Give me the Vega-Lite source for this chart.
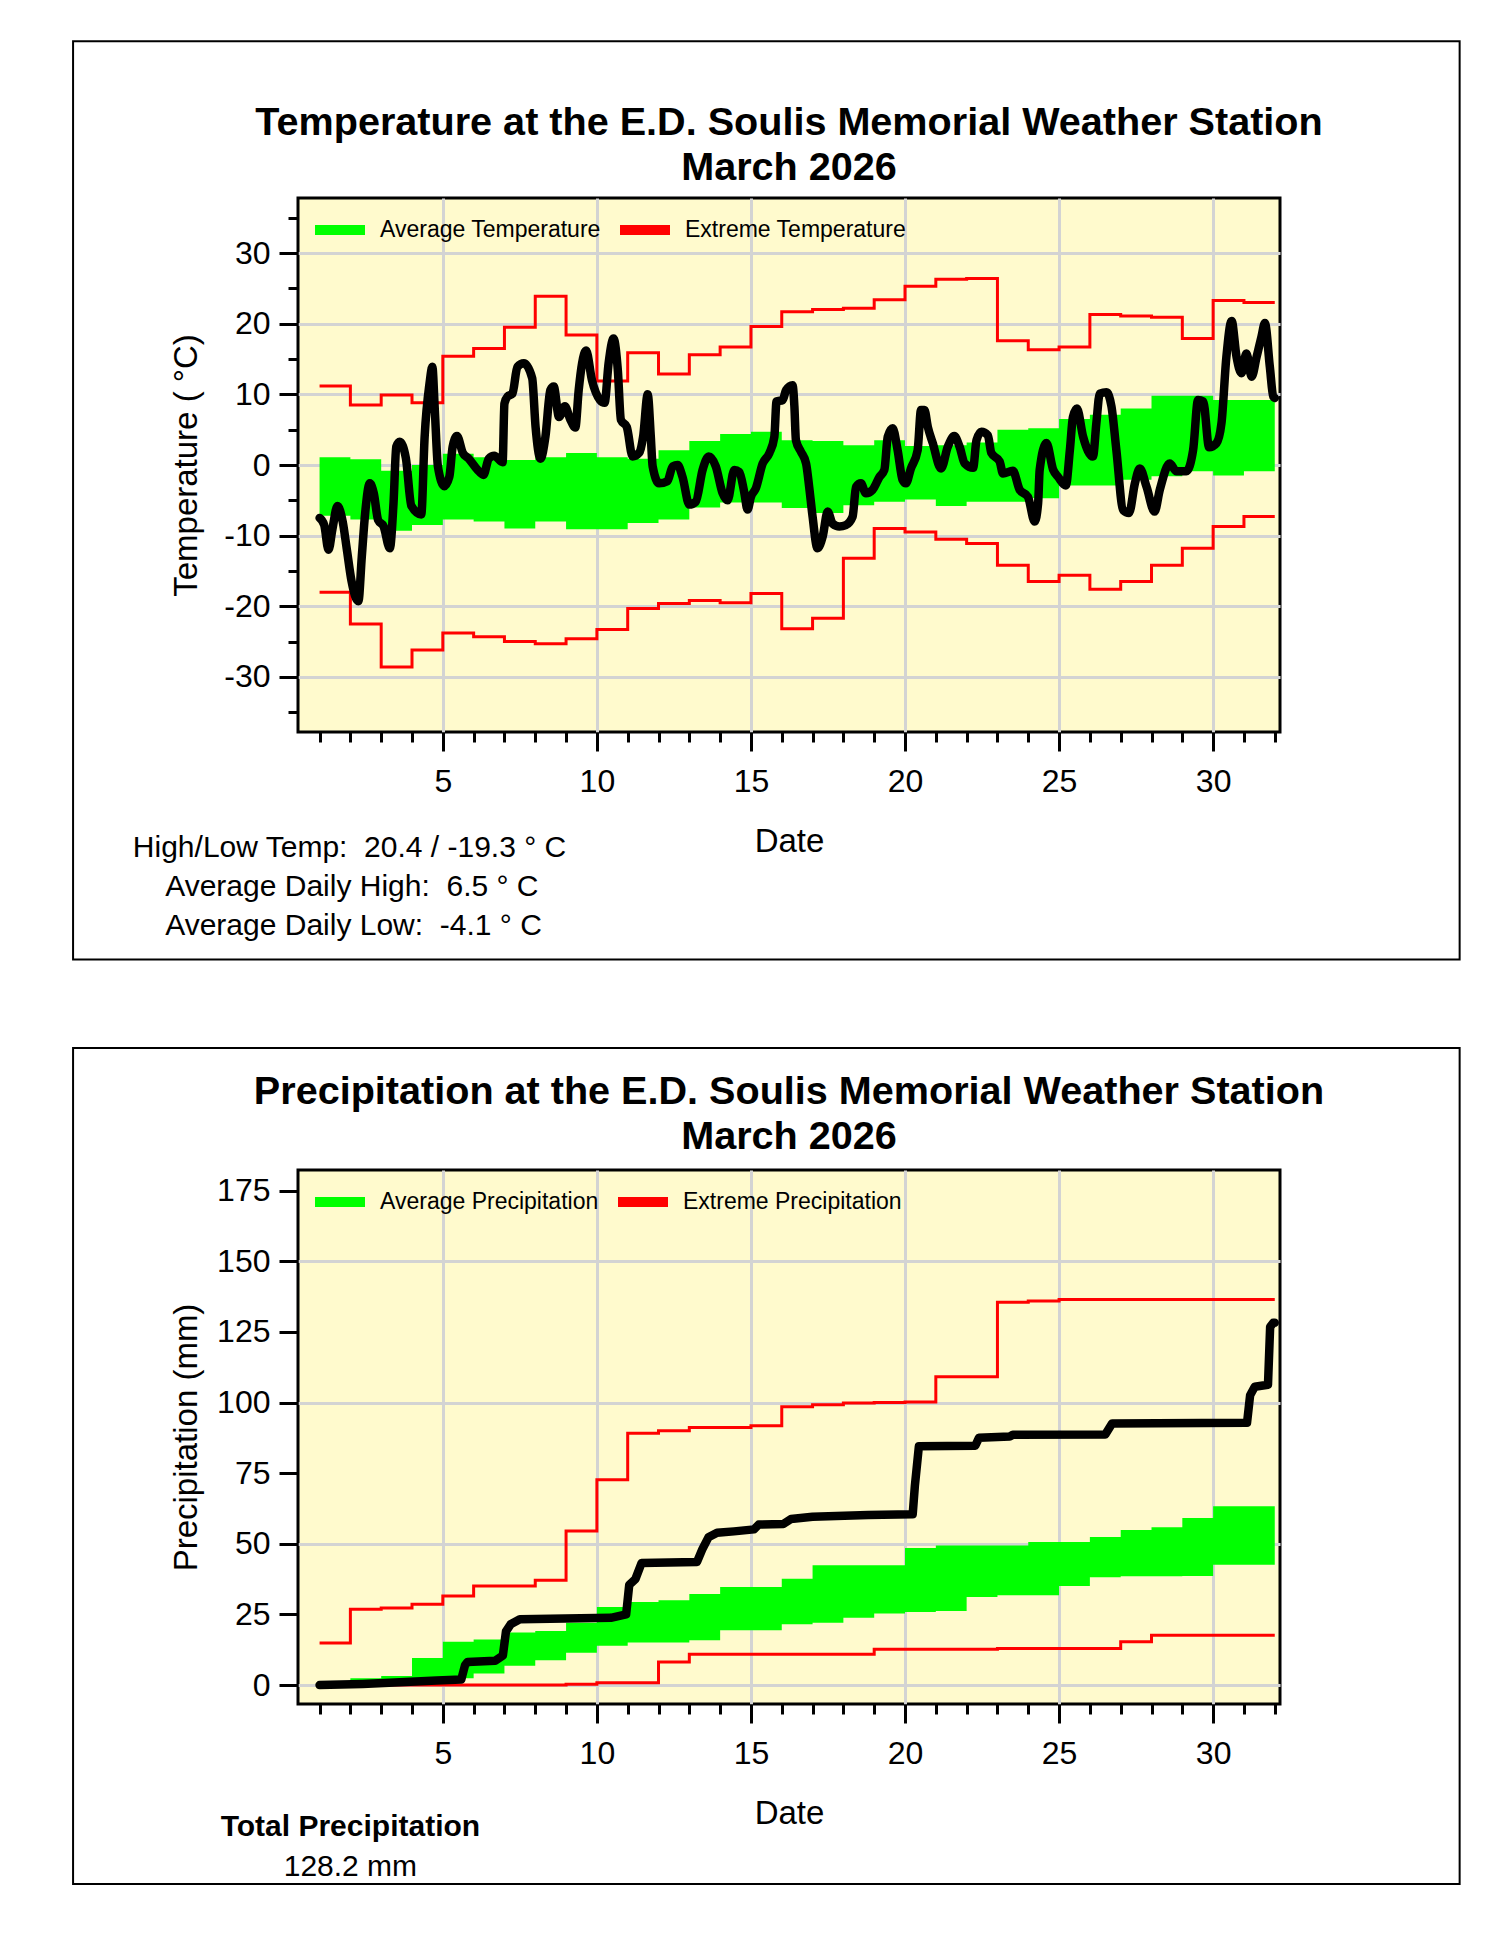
{
  "$schema": "https://vega.github.io/schema/vega-lite/v6.json",
  "background": "white",
  "padding": {"left": 70, "top": 38, "right": 0, "bottom": 0},
  "config": {
    "font": "Liberation Sans",
    "view": {"stroke": "black", "strokeWidth": 3, "fill": "#FFFACD"},
    "axis": {
      "domain": false,
      "tickColor": "black",
      "tickWidth": 3,
      "tickCount": 100,
      "labelFont": "Liberation Sans",
      "labelFontSize": 32,
      "labelColor": "black",
      "titleFont": "Liberation Sans",
      "titleFontSize": 33,
      "titleFontWeight": "normal",
      "titleColor": "black",
      "gridColor": "#d3d3d3",
      "gridWidth": 3
    },
    "title": {"font": "Liberation Sans", "fontSize": 39.6, "fontWeight": "bold", "color": "black", "anchor": "middle", "lineHeight": 45},
    "legend": {"labelFont": "Liberation Sans", "labelFontSize": 23, "labelColor": "black", "labelLimit": 0}
  },
  "datasets": {
    "temp_daily": [
      {"day": 1, "avg_hi": 1.1, "avg_lo": -7.2, "ext_hi": 11.2, "ext_lo": -18.0},
      {"day": 2, "avg_hi": 0.8, "avg_lo": -7.7, "ext_hi": 8.5, "ext_lo": -22.5},
      {"day": 3, "avg_hi": -0.8, "avg_lo": -9.3, "ext_hi": 9.9, "ext_lo": -28.6},
      {"day": 4, "avg_hi": 0.0, "avg_lo": -8.5, "ext_hi": 8.8, "ext_lo": -26.2},
      {"day": 5, "avg_hi": 1.6, "avg_lo": -7.7, "ext_hi": 15.4, "ext_lo": -23.8},
      {"day": 6, "avg_hi": 1.1, "avg_lo": -8.0, "ext_hi": 16.5, "ext_lo": -24.3},
      {"day": 7, "avg_hi": 0.7, "avg_lo": -9.0, "ext_hi": 19.5, "ext_lo": -25.0},
      {"day": 8, "avg_hi": 1.1, "avg_lo": -8.0, "ext_hi": 23.9, "ext_lo": -25.3},
      {"day": 9, "avg_hi": 1.7, "avg_lo": -9.1, "ext_hi": 18.4, "ext_lo": -24.6},
      {"day": 10, "avg_hi": 1.1, "avg_lo": -9.1, "ext_hi": 11.9, "ext_lo": -23.3},
      {"day": 11, "avg_hi": 0.9, "avg_lo": -8.2, "ext_hi": 15.9, "ext_lo": -20.3},
      {"day": 12, "avg_hi": 2.1, "avg_lo": -7.7, "ext_hi": 12.9, "ext_lo": -19.6},
      {"day": 13, "avg_hi": 3.4, "avg_lo": -6.0, "ext_hi": 15.6, "ext_lo": -19.2},
      {"day": 14, "avg_hi": 4.4, "avg_lo": -5.3, "ext_hi": 16.7, "ext_lo": -19.5},
      {"day": 15, "avg_hi": 4.7, "avg_lo": -5.3, "ext_hi": 19.6, "ext_lo": -18.2},
      {"day": 16, "avg_hi": 3.5, "avg_lo": -6.1, "ext_hi": 21.7, "ext_lo": -23.2},
      {"day": 17, "avg_hi": 3.4, "avg_lo": -6.8, "ext_hi": 22.0, "ext_lo": -21.7},
      {"day": 18, "avg_hi": 2.8, "avg_lo": -5.7, "ext_hi": 22.2, "ext_lo": -13.2},
      {"day": 19, "avg_hi": 3.5, "avg_lo": -5.2, "ext_hi": 23.4, "ext_lo": -9.0},
      {"day": 20, "avg_hi": 2.7, "avg_lo": -4.9, "ext_hi": 25.3, "ext_lo": -9.5},
      {"day": 21, "avg_hi": 2.8, "avg_lo": -5.8, "ext_hi": 26.3, "ext_lo": -10.5},
      {"day": 22, "avg_hi": 3.2, "avg_lo": -5.2, "ext_hi": 26.4, "ext_lo": -11.1},
      {"day": 23, "avg_hi": 5.0, "avg_lo": -5.2, "ext_hi": 17.6, "ext_lo": -14.2},
      {"day": 24, "avg_hi": 5.2, "avg_lo": -4.7, "ext_hi": 16.3, "ext_lo": -16.5},
      {"day": 25, "avg_hi": 6.5, "avg_lo": -2.9, "ext_hi": 16.7, "ext_lo": -15.6},
      {"day": 26, "avg_hi": 7.1, "avg_lo": -2.9, "ext_hi": 21.3, "ext_lo": -17.6},
      {"day": 27, "avg_hi": 8.0, "avg_lo": -2.1, "ext_hi": 21.1, "ext_lo": -16.5},
      {"day": 28, "avg_hi": 9.8, "avg_lo": -1.6, "ext_hi": 20.9, "ext_lo": -14.2},
      {"day": 29, "avg_hi": 9.8, "avg_lo": -0.9, "ext_hi": 17.9, "ext_lo": -11.8},
      {"day": 30, "avg_hi": 9.2, "avg_lo": -1.5, "ext_hi": 23.3, "ext_lo": -8.7},
      {"day": 31, "avg_hi": 9.2, "avg_lo": -0.9, "ext_hi": 23.0, "ext_lo": -7.3},
      {"day": 32, "avg_hi": 9.2, "avg_lo": -0.9, "ext_hi": 23.0, "ext_lo": -7.3}
    ],
    "temp_obs": [
      {"day": 1.0, "temp": -7.5}, {"day": 1.15, "temp": -8.5}, {"day": 1.29, "temp": -12.0}, {"day": 1.42, "temp": -9.0},
      {"day": 1.58, "temp": -5.8}, {"day": 1.75, "temp": -8.0}, {"day": 1.88, "temp": -11.8}, {"day": 2.04, "temp": -16.5},
      {"day": 2.26, "temp": -19.3}, {"day": 2.37, "temp": -13.0}, {"day": 2.48, "temp": -6.8}, {"day": 2.63, "temp": -2.6},
      {"day": 2.76, "temp": -4.0}, {"day": 2.9, "temp": -7.8}, {"day": 3.08, "temp": -8.7}, {"day": 3.28, "temp": -11.8},
      {"day": 3.4, "temp": -5.4}, {"day": 3.49, "temp": 2.6}, {"day": 3.6, "temp": 3.3}, {"day": 3.8, "temp": 1.0},
      {"day": 3.98, "temp": -5.8}, {"day": 4.3, "temp": -7.0}, {"day": 4.41, "temp": 4.0}, {"day": 4.57, "temp": 11.6},
      {"day": 4.66, "temp": 13.9}, {"day": 4.74, "temp": 7.8}, {"day": 4.84, "temp": -0.2}, {"day": 5.05, "temp": -3.0},
      {"day": 5.21, "temp": -1.7}, {"day": 5.32, "temp": 2.6}, {"day": 5.46, "temp": 4.1}, {"day": 5.65, "temp": 1.7},
      {"day": 5.84, "temp": 0.9}, {"day": 6.13, "temp": -0.7}, {"day": 6.32, "temp": -1.4}, {"day": 6.49, "temp": 0.9},
      {"day": 6.67, "temp": 1.3}, {"day": 6.94, "temp": 0.4}, {"day": 7.0, "temp": 8.7}, {"day": 7.1, "temp": 9.7},
      {"day": 7.26, "temp": 10.1}, {"day": 7.42, "temp": 13.9}, {"day": 7.63, "temp": 14.4}, {"day": 7.9, "temp": 12.3},
      {"day": 8.01, "temp": 5.4}, {"day": 8.17, "temp": 0.9}, {"day": 8.33, "temp": 4.0}, {"day": 8.49, "temp": 10.6},
      {"day": 8.6, "temp": 11.1}, {"day": 8.77, "temp": 6.8}, {"day": 8.96, "temp": 8.3}, {"day": 9.14, "temp": 6.4},
      {"day": 9.3, "temp": 5.3}, {"day": 9.41, "temp": 10.6}, {"day": 9.52, "temp": 14.4}, {"day": 9.65, "temp": 16.2},
      {"day": 9.84, "temp": 12.0}, {"day": 10.1, "temp": 9.2}, {"day": 10.25, "temp": 8.8}, {"day": 10.38, "temp": 14.4},
      {"day": 10.54, "temp": 17.9}, {"day": 10.68, "temp": 13.4}, {"day": 10.78, "temp": 6.4}, {"day": 10.97, "temp": 5.4},
      {"day": 11.16, "temp": 1.2}, {"day": 11.37, "temp": 1.7}, {"day": 11.5, "temp": 4.0}, {"day": 11.65, "temp": 10.0},
      {"day": 11.75, "temp": 4.0}, {"day": 11.81, "temp": -0.2}, {"day": 12.02, "temp": -2.6}, {"day": 12.29, "temp": -2.3},
      {"day": 12.46, "temp": -0.2}, {"day": 12.62, "temp": 0.0}, {"day": 12.78, "temp": -1.7}, {"day": 13.0, "temp": -5.6},
      {"day": 13.21, "temp": -5.2}, {"day": 13.43, "temp": -0.7}, {"day": 13.63, "temp": 1.2}, {"day": 13.86, "temp": -0.2},
      {"day": 14.08, "temp": -4.0}, {"day": 14.24, "temp": -5.0}, {"day": 14.46, "temp": -0.7}, {"day": 14.62, "temp": -1.0},
      {"day": 14.78, "temp": -3.8}, {"day": 14.89, "temp": -6.3}, {"day": 15.0, "temp": -4.5}, {"day": 15.16, "temp": -3.3},
      {"day": 15.38, "temp": 0.2}, {"day": 15.6, "temp": 1.7}, {"day": 15.76, "temp": 4.0}, {"day": 15.83, "temp": 9.0},
      {"day": 16.03, "temp": 9.2}, {"day": 16.14, "temp": 10.6}, {"day": 16.35, "temp": 11.3}, {"day": 16.41, "temp": 8.3},
      {"day": 16.46, "temp": 3.5}, {"day": 16.62, "temp": 1.9}, {"day": 16.79, "temp": 0.2}, {"day": 16.89, "temp": -3.1},
      {"day": 17.0, "temp": -7.3}, {"day": 17.16, "temp": -11.8}, {"day": 17.33, "temp": -10.1}, {"day": 17.49, "temp": -6.6},
      {"day": 17.65, "temp": -8.3}, {"day": 17.87, "temp": -8.7}, {"day": 18.08, "temp": -8.5}, {"day": 18.3, "temp": -7.3},
      {"day": 18.41, "temp": -3.1}, {"day": 18.57, "temp": -2.6}, {"day": 18.73, "temp": -4.0}, {"day": 18.95, "temp": -3.5},
      {"day": 19.17, "temp": -1.7}, {"day": 19.33, "temp": -0.7}, {"day": 19.44, "temp": 4.0}, {"day": 19.6, "temp": 5.2},
      {"day": 19.76, "temp": 2.1}, {"day": 19.92, "temp": -2.1}, {"day": 20.03, "temp": -2.6}, {"day": 20.19, "temp": -0.5},
      {"day": 20.41, "temp": 2.1}, {"day": 20.52, "temp": 7.8}, {"day": 20.63, "temp": 7.8}, {"day": 20.74, "temp": 5.4},
      {"day": 20.9, "temp": 3.1}, {"day": 21.17, "temp": -0.5}, {"day": 21.39, "temp": 2.6}, {"day": 21.6, "temp": 4.1},
      {"day": 21.77, "temp": 2.6}, {"day": 21.94, "temp": 0.2}, {"day": 22.21, "temp": -0.4}, {"day": 22.32, "temp": 3.5},
      {"day": 22.48, "temp": 4.7}, {"day": 22.69, "temp": 4.2}, {"day": 22.8, "temp": 1.7}, {"day": 23.07, "temp": 0.5},
      {"day": 23.18, "temp": -1.2}, {"day": 23.5, "temp": -0.8}, {"day": 23.72, "temp": -3.5}, {"day": 23.99, "temp": -4.5},
      {"day": 24.21, "temp": -8.0}, {"day": 24.32, "temp": -5.4}, {"day": 24.37, "temp": -0.7}, {"day": 24.59, "temp": 3.1},
      {"day": 24.81, "temp": -0.7}, {"day": 24.97, "temp": -1.7}, {"day": 25.22, "temp": -2.9}, {"day": 25.35, "temp": 2.1},
      {"day": 25.45, "temp": 6.8}, {"day": 25.58, "temp": 8.0}, {"day": 25.78, "temp": 4.0}, {"day": 26.1, "temp": 1.2},
      {"day": 26.21, "temp": 5.9}, {"day": 26.32, "temp": 10.1}, {"day": 26.54, "temp": 10.3}, {"day": 26.7, "temp": 8.3},
      {"day": 26.86, "temp": 2.1}, {"day": 27.08, "temp": -6.4}, {"day": 27.27, "temp": -6.8}, {"day": 27.46, "temp": -2.6},
      {"day": 27.62, "temp": -0.5}, {"day": 27.84, "temp": -3.1}, {"day": 28.1, "temp": -6.6}, {"day": 28.27, "temp": -3.5},
      {"day": 28.59, "temp": 0.2}, {"day": 28.81, "temp": -0.9}, {"day": 29.13, "temp": -0.9}, {"day": 29.35, "temp": 2.1},
      {"day": 29.51, "temp": 9.2}, {"day": 29.68, "temp": 9.0}, {"day": 29.87, "temp": 2.5}, {"day": 30.11, "temp": 3.1},
      {"day": 30.27, "temp": 5.9}, {"day": 30.43, "temp": 15.3}, {"day": 30.6, "temp": 20.4}, {"day": 30.76, "temp": 15.3},
      {"day": 30.92, "temp": 13.0}, {"day": 31.08, "temp": 15.8}, {"day": 31.25, "temp": 12.5}, {"day": 31.41, "temp": 15.3},
      {"day": 31.57, "temp": 18.2}, {"day": 31.68, "temp": 20.1}, {"day": 31.84, "temp": 13.9}, {"day": 31.95, "temp": 9.7},
      {"day": 32.0, "temp": 9.5}
    ],
    "precip_daily": [
      {"day": 1, "avg_hi": 1.0, "avg_lo": 0.0, "ext_hi": 14.9, "ext_lo": 0.0},
      {"day": 2, "avg_hi": 2.4, "avg_lo": 0.0, "ext_hi": 26.8, "ext_lo": 0.0},
      {"day": 3, "avg_hi": 3.2, "avg_lo": 0.0, "ext_hi": 27.3, "ext_lo": 0.0},
      {"day": 4, "avg_hi": 9.6, "avg_lo": 0.2, "ext_hi": 28.6, "ext_lo": 0.0},
      {"day": 5, "avg_hi": 15.3, "avg_lo": 2.4, "ext_hi": 31.5, "ext_lo": 0.0},
      {"day": 6, "avg_hi": 16.1, "avg_lo": 4.1, "ext_hi": 35.1, "ext_lo": 0.0},
      {"day": 7, "avg_hi": 18.6, "avg_lo": 6.8, "ext_hi": 35.1, "ext_lo": 0.0},
      {"day": 8, "avg_hi": 19.1, "avg_lo": 8.8, "ext_hi": 37.1, "ext_lo": 0.0},
      {"day": 9, "avg_hi": 22.1, "avg_lo": 11.4, "ext_hi": 54.5, "ext_lo": 0.3},
      {"day": 10, "avg_hi": 27.6, "avg_lo": 13.9, "ext_hi": 72.7, "ext_lo": 0.8},
      {"day": 11, "avg_hi": 29.4, "avg_lo": 15.1, "ext_hi": 89.1, "ext_lo": 0.8},
      {"day": 12, "avg_hi": 30.0, "avg_lo": 15.1, "ext_hi": 90.0, "ext_lo": 8.2},
      {"day": 13, "avg_hi": 32.2, "avg_lo": 15.9, "ext_hi": 91.2, "ext_lo": 10.9},
      {"day": 14, "avg_hi": 34.7, "avg_lo": 19.4, "ext_hi": 91.2, "ext_lo": 10.9},
      {"day": 15, "avg_hi": 34.7, "avg_lo": 19.4, "ext_hi": 91.8, "ext_lo": 10.9},
      {"day": 16, "avg_hi": 37.6, "avg_lo": 21.5, "ext_hi": 98.5, "ext_lo": 10.9},
      {"day": 17, "avg_hi": 42.4, "avg_lo": 22.1, "ext_hi": 99.2, "ext_lo": 10.9},
      {"day": 18, "avg_hi": 42.4, "avg_lo": 23.8, "ext_hi": 99.8, "ext_lo": 10.9},
      {"day": 19, "avg_hi": 42.4, "avg_lo": 25.3, "ext_hi": 100.0, "ext_lo": 12.7},
      {"day": 20, "avg_hi": 48.5, "avg_lo": 25.9, "ext_hi": 100.2, "ext_lo": 12.7},
      {"day": 21, "avg_hi": 49.4, "avg_lo": 26.2, "ext_hi": 109.1, "ext_lo": 12.7},
      {"day": 22, "avg_hi": 49.4, "avg_lo": 31.2, "ext_hi": 109.1, "ext_lo": 12.7},
      {"day": 23, "avg_hi": 49.4, "avg_lo": 31.8, "ext_hi": 135.5, "ext_lo": 12.9},
      {"day": 24, "avg_hi": 50.6, "avg_lo": 31.8, "ext_hi": 135.9, "ext_lo": 12.9},
      {"day": 25, "avg_hi": 50.6, "avg_lo": 35.1, "ext_hi": 136.5, "ext_lo": 12.9},
      {"day": 26, "avg_hi": 52.4, "avg_lo": 38.2, "ext_hi": 136.5, "ext_lo": 12.9},
      {"day": 27, "avg_hi": 54.9, "avg_lo": 38.5, "ext_hi": 136.5, "ext_lo": 15.3},
      {"day": 28, "avg_hi": 55.9, "avg_lo": 38.5, "ext_hi": 136.5, "ext_lo": 17.6},
      {"day": 29, "avg_hi": 59.1, "avg_lo": 38.6, "ext_hi": 136.5, "ext_lo": 17.6},
      {"day": 30, "avg_hi": 63.3, "avg_lo": 42.6, "ext_hi": 136.5, "ext_lo": 17.6},
      {"day": 31, "avg_hi": 63.3, "avg_lo": 42.6, "ext_hi": 136.5, "ext_lo": 17.6},
      {"day": 32, "avg_hi": 63.3, "avg_lo": 42.6, "ext_hi": 136.5, "ext_lo": 17.6}
    ],
    "precip_obs": [
      {"day": 1.0, "precip": 0.0}, {"day": 2.4, "precip": 0.4}, {"day": 4.8, "precip": 1.6}, {"day": 5.6, "precip": 2.0},
      {"day": 5.72, "precip": 7.0}, {"day": 5.8, "precip": 8.2}, {"day": 6.7, "precip": 8.6}, {"day": 6.95, "precip": 10.5},
      {"day": 7.05, "precip": 19.0}, {"day": 7.2, "precip": 21.5}, {"day": 7.5, "precip": 23.3}, {"day": 10.45, "precip": 23.8},
      {"day": 10.95, "precip": 25.0}, {"day": 11.05, "precip": 35.5}, {"day": 11.25, "precip": 37.5}, {"day": 11.45, "precip": 43.2},
      {"day": 13.25, "precip": 43.6}, {"day": 13.42, "precip": 48.0}, {"day": 13.62, "precip": 52.3}, {"day": 13.9, "precip": 53.9},
      {"day": 14.45, "precip": 54.4}, {"day": 15.1, "precip": 55.1}, {"day": 15.25, "precip": 56.8}, {"day": 16.05, "precip": 57.0},
      {"day": 16.3, "precip": 58.8}, {"day": 17.0, "precip": 59.6}, {"day": 18.8, "precip": 60.2}, {"day": 20.25, "precip": 60.5},
      {"day": 20.32, "precip": 70.5}, {"day": 20.45, "precip": 84.5}, {"day": 22.28, "precip": 84.7}, {"day": 22.4, "precip": 87.5},
      {"day": 23.4, "precip": 88.0}, {"day": 23.5, "precip": 88.6}, {"day": 26.5, "precip": 88.7}, {"day": 26.72, "precip": 92.6},
      {"day": 31.1, "precip": 92.8}, {"day": 31.2, "precip": 102.6}, {"day": 31.35, "precip": 105.6}, {"day": 31.78, "precip": 106.3},
      {"day": 31.85, "precip": 126.8}, {"day": 31.95, "precip": 128.2}, {"day": 32.0, "precip": 128.2}
    ]
  },
  "resolve": {"scale": {"color": "independent"}, "legend": {"color": "independent"}},
  "spacing": 83,
  "vconcat": [
    {
      "width": 982,
      "height": 534,
      "title": {"text": ["Temperature at the E.D. Soulis Memorial Weather Station", "March 2026"], "offset": -148},
      "layer": [
        {
          "data": {"name": "temp_daily"},
          "mark": {"type": "area", "interpolate": "step-after", "opacity": 1},
          "encoding": {
            "x": {
              "field": "day",
              "type": "quantitative",
              "title": "Date",
              "scale": {"domain": [0.3, 32.17], "nice": false, "zero": false},
              "axis": {
                "values": [1,2,3,4,5,6,7,8,9,10,11,12,13,14,15,16,17,18,19,20,21,22,23,24,25,26,27,28,29,30,31,32],
                "labelExpr": "datum.value % 5 === 0 ? toString(datum.value) : ''",
                "tickSize": {"condition": {"test": "datum.value % 5 === 0", "value": 19}, "value": 10},
                "gridOpacity": {"condition": {"test": "datum.value % 5 === 0", "value": 1}, "value": 0},
                "labelOverlap": false,
                "labelFlush": false,
                "labelPadding": 15,
                "titlePadding": 28
              }
            },
            "y": {
              "field": "avg_hi",
              "type": "quantitative",
              "title": "Temperature ( °C)",
              "scale": {"domain": [-37.8, 37.8], "nice": false, "zero": false},
              "axis": {
                "values": [-35,-30,-25,-20,-15,-10,-5,0,5,10,15,20,25,30,35],
                "labelExpr": "datum.value % 10 === 0 ? toString(datum.value) : ''",
                "tickSize": {"condition": {"test": "datum.value % 10 === 0", "value": 19}, "value": 10},
                "gridOpacity": {"condition": {"test": "datum.value % 10 === 0", "value": 1}, "value": 0},
                "labelOverlap": false,
                "labelFlush": false,
                "labelPadding": 9,
                "titlePadding": 20
              }
            },
            "y2": {"field": "avg_lo"},
            "color": {
              "datum": "Average Temperature",
              "type": "nominal",
              "scale": {"domain": ["Average Temperature", "Extreme Temperature"], "range": ["#00ff00", "#ff0000"]},
              "legend": {
                "orient": "none", "legendX": 12, "legendY": 2, "direction": "horizontal", "title": null,
                "symbolType": "stroke", "symbolStrokeWidth": 10, "symbolSize": 2500,
                "columnPadding": -1, "labelOffset": 10, "padding": 0
              }
            }
          }
        },
        {
          "data": {"name": "temp_daily"},
          "mark": {"type": "line", "interpolate": "step-after", "strokeWidth": 3},
          "encoding": {
            "x": {"field": "day", "type": "quantitative"},
            "y": {"field": "ext_hi", "type": "quantitative"},
            "color": {"datum": "Extreme Temperature", "type": "nominal"}
          }
        },
        {
          "data": {"name": "temp_daily"},
          "mark": {"type": "line", "interpolate": "step-after", "strokeWidth": 3},
          "encoding": {
            "x": {"field": "day", "type": "quantitative"},
            "y": {"field": "ext_lo", "type": "quantitative"},
            "color": {"datum": "Extreme Temperature", "type": "nominal"}
          }
        },
        {
          "data": {"name": "temp_obs"},
          "mark": {"type": "line", "interpolate": "monotone", "color": "black", "strokeWidth": 8.5, "strokeCap": "round", "strokeJoin": "round"},
          "encoding": {
            "x": {"field": "day", "type": "quantitative"},
            "y": {"field": "temp", "type": "quantitative"}
          }
        },
        {
          "data": {"values": [{"panel": "temperature"}]},
          "mark": {"type": "rect", "fillOpacity": 0, "stroke": "black", "strokeWidth": 2, "clip": false},
          "encoding": {
            "x": {"datum": -7, "type": "quantitative"},
            "x2": {"datum": 38},
            "y": {"datum": 60, "type": "quantitative"},
            "y2": {"datum": -70}
          }
        },
        {
          "data": {"values": [{"panel": "temperature"}]},
          "mark": {"type": "text", "text": "High/Low Temp:\u00a0 20.4 / -19.3 ° C", "align": "left", "baseline": "alphabetic", "fontSize": 30, "color": "black", "clip": false},
          "encoding": {
            "x": {"datum": -5.06, "type": "quantitative"},
            "y": {"datum": -55.5, "type": "quantitative"}
          }
        },
        {
          "data": {"values": [{"panel": "temperature"}]},
          "mark": {"type": "text", "text": "Average Daily High:\u00a0 6.5 ° C", "align": "left", "baseline": "alphabetic", "fontSize": 30, "color": "black", "clip": false},
          "encoding": {
            "x": {"datum": -4.01, "type": "quantitative"},
            "y": {"datum": -61.0, "type": "quantitative"}
          }
        },
        {
          "data": {"values": [{"panel": "temperature"}]},
          "mark": {"type": "text", "text": "Average Daily Low:\u00a0 -4.1 ° C", "align": "left", "baseline": "alphabetic", "fontSize": 30, "color": "black", "clip": false},
          "encoding": {
            "x": {"datum": -4.01, "type": "quantitative"},
            "y": {"datum": -66.5, "type": "quantitative"}
          }
        }
      ]
    },
    {
      "width": 982,
      "height": 534,
      "title": {"text": ["Precipitation at the E.D. Soulis Memorial Weather Station", "March 2026"], "offset": -111},
      "layer": [
        {
          "data": {"name": "precip_daily"},
          "mark": {"type": "area", "interpolate": "step-after", "opacity": 1},
          "encoding": {
            "x": {
              "field": "day",
              "type": "quantitative",
              "title": "Date",
              "scale": {"domain": [0.3, 32.17], "nice": false, "zero": false},
              "axis": {
                "values": [1,2,3,4,5,6,7,8,9,10,11,12,13,14,15,16,17,18,19,20,21,22,23,24,25,26,27,28,29,30,31,32],
                "labelExpr": "datum.value % 5 === 0 ? toString(datum.value) : ''",
                "tickSize": {"condition": {"test": "datum.value % 5 === 0", "value": 19}, "value": 10},
                "gridOpacity": {"condition": {"test": "datum.value % 5 === 0", "value": 1}, "value": 0},
                "labelOverlap": false,
                "labelFlush": false,
                "labelPadding": 15,
                "titlePadding": 28
              }
            },
            "y": {
              "field": "avg_hi",
              "type": "quantitative",
              "title": "Precipitation (mm)",
              "scale": {"domain": [-6.7, 182.3], "nice": false, "zero": false},
              "axis": {
                "values": [0, 25, 50, 75, 100, 125, 150, 175],
                "labelExpr": "toString(datum.value)",
                "tickSize": 19,
                "gridOpacity": {"condition": {"test": "datum.value % 50 === 0", "value": 1}, "value": 0},
                "labelOverlap": false,
                "labelFlush": false,
                "labelPadding": 9,
                "titlePadding": 13
              }
            },
            "y2": {"field": "avg_lo"},
            "color": {
              "datum": "Average Precipitation",
              "type": "nominal",
              "scale": {"domain": ["Average Precipitation", "Extreme Precipitation"], "range": ["#00ff00", "#ff0000"]},
              "legend": {
                "orient": "none", "legendX": 12, "legendY": 2, "direction": "horizontal", "title": null,
                "symbolType": "stroke", "symbolStrokeWidth": 10, "symbolSize": 2500,
                "columnPadding": -1, "labelOffset": 10, "padding": 0
              }
            }
          }
        },
        {
          "data": {"name": "precip_daily"},
          "mark": {"type": "line", "interpolate": "step-after", "strokeWidth": 3},
          "encoding": {
            "x": {"field": "day", "type": "quantitative"},
            "y": {"field": "ext_hi", "type": "quantitative"},
            "color": {"datum": "Extreme Precipitation", "type": "nominal"}
          }
        },
        {
          "data": {"name": "precip_daily"},
          "mark": {"type": "line", "interpolate": "step-after", "strokeWidth": 3},
          "encoding": {
            "x": {"field": "day", "type": "quantitative"},
            "y": {"field": "ext_lo", "type": "quantitative"},
            "color": {"datum": "Extreme Precipitation", "type": "nominal"}
          }
        },
        {
          "data": {"name": "precip_obs"},
          "mark": {"type": "line", "interpolate": "linear", "color": "black", "strokeWidth": 8.5, "strokeCap": "round", "strokeJoin": "round"},
          "encoding": {
            "x": {"field": "day", "type": "quantitative"},
            "y": {"field": "precip", "type": "quantitative"}
          }
        },
        {
          "data": {"values": [{"panel": "precipitation"}]},
          "mark": {"type": "rect", "fillOpacity": 0, "stroke": "black", "strokeWidth": 2, "clip": false},
          "encoding": {
            "x": {"datum": -7, "type": "quantitative"},
            "x2": {"datum": 38},
            "y": {"datum": 225.5, "type": "quantitative"},
            "y2": {"datum": -70.4}
          }
        },
        {
          "data": {"values": [{"panel": "precipitation"}]},
          "mark": {"type": "text", "text": "Total Precipitation", "align": "center", "baseline": "alphabetic", "fontSize": 30, "fontWeight": "bold", "color": "black", "clip": false},
          "encoding": {
            "x": {"datum": 2.0, "type": "quantitative"},
            "y": {"datum": -53.4, "type": "quantitative"}
          }
        },
        {
          "data": {"values": [{"panel": "precipitation"}]},
          "mark": {"type": "text", "text": "128.2 mm", "align": "center", "baseline": "alphabetic", "fontSize": 30, "color": "black", "clip": false},
          "encoding": {
            "x": {"datum": 2.0, "type": "quantitative"},
            "y": {"datum": -67.6, "type": "quantitative"}
          }
        }
      ]
    }
  ]
}
